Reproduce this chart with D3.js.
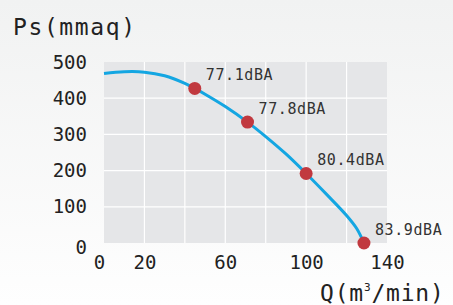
<!DOCTYPE html>
<html>
<head>
<meta charset="utf-8">
<script src="https://cdn.jsdelivr.net/npm/d3@7"></script>
<style>
  body { margin: 0; background: #fff; }
  svg { display: block; }
</style>
</head>
<body>
<div id="vis"></div>
<script>
// curve (Q in m3/min, Ps in mmaq)
const curveQ  = [0, 10, 20, 30, 40, 44.9, 50, 60, 71, 80, 90, 100, 110, 120, 125, 128.6];
const curvePs = [468, 473, 472, 462, 441, 427, 411, 377, 334, 294, 246, 192, 135, 76, 40, 0];

// measured points with noise level
const pointQ  = [44.9, 71, 100, 128.6];
const pointPs = [427, 334, 192, 0];
const pointLabels = ["77.1dBA", "77.8dBA", "80.4dBA", "83.9dBA"];

const xTicks = [0, 20, 60, 100, 140];
const yTicks = [0, 100, 200, 300, 400, 500];
const xGrid = [20, 40, 60, 80, 100, 120];
const yGrid = [100, 200, 300, 400];

function drawChart(){
  const size = {width: 453, height: 305};
  const margin = {left: 104, right: 66, top: 62, bottom: 62};
  const {width, height} = size;
  const font = "'DejaVu Sans Mono', 'Liberation Mono', monospace";

  const svg = d3.select("#vis")
    .append("svg")
    .attr("width", width)
    .attr("height", height);

  const grad = svg.append("defs").append("linearGradient")
    .attr("id", "bg").attr("x1", 0).attr("y1", 0).attr("x2", 0).attr("y2", 1);
  grad.append("stop").attr("offset", "0%").attr("stop-color", "#f1f2f2");
  grad.append("stop").attr("offset", "100%").attr("stop-color", "#fefefe");
  svg.append("rect").attr("width", width).attr("height", height).attr("fill", "url(#bg)");

  const x = d3.scaleLinear()
    .domain([0, 140])
    .range([margin.left, width - margin.right]);
  const y = d3.scaleLinear()
    .domain([0, 500])
    .range([height - margin.bottom, margin.top]);

  // plot background + grid
  svg.append("rect")
    .attr("x", x(0)).attr("y", y(500))
    .attr("width", x(140) - x(0)).attr("height", y(0) - y(500))
    .attr("fill", "#e5e6e8");

  svg.selectAll(".vgrid")
    .data(xGrid)
    .join("line")
    .attr("class", "vgrid")
    .attr("x1", d => x(d)).attr("x2", d => x(d))
    .attr("y1", y(0)).attr("y2", y(500))
    .attr("stroke", "#fff").attr("stroke-width", 1.2);
  svg.selectAll(".hgrid")
    .data(yGrid)
    .join("line")
    .attr("class", "hgrid")
    .attr("y1", d => y(d)).attr("y2", d => y(d))
    .attr("x1", x(0)).attr("x2", x(140))
    .attr("stroke", "#fff").attr("stroke-width", 1.2);

  // axes (labels only)
  const yAxis = svg.append("g")
    .attr("transform", `translate(${x(0)},0)`)
    .call(d3.axisLeft(y).tickValues(yTicks).tickSize(0).tickPadding(17));
  const xAxis = svg.append("g")
    .attr("transform", `translate(0,${y(0)})`)
    .call(d3.axisBottom(x).tickValues(xTicks).tickSize(0).tickPadding(13));
  [xAxis, yAxis].forEach(a => {
    a.select(".domain").remove();
    a.selectAll("text")
      .style("font-family", font)
      .style("font-size", "19px")
      .style("fill", "#222");
  });
  // the zero labels sit a bit off the corner
  yAxis.selectAll(".tick").filter(d => d === 0).select("text").attr("y", 4);
  xAxis.selectAll(".tick").filter(d => d === 0).select("text").attr("x", -5);

  // curve
  const curveData = curveQ.map((q, i) => [q, curvePs[i]]);
  svg.append("path")
    .datum(curveData)
    .attr("fill", "none")
    .attr("stroke", "#14a6e2")
    .attr("stroke-width", 3)
    .attr("d", d3.line().x(d => x(d[0])).y(d => y(d[1])).curve(d3.curveCatmullRom.alpha(0.5)));

  const pts = pointQ.map((q, i) => ({q: q, ps: pointPs[i], label: pointLabels[i]}));
  svg.selectAll(".pt")
    .data(pts)
    .join("circle")
    .attr("class", "pt")
    .attr("cx", d => x(d.q)).attr("cy", d => y(d.ps))
    .attr("r", 6.5)
    .attr("fill", "#c1393f");

  svg.selectAll(".lbl")
    .data(pts)
    .join("text")
    .attr("class", "lbl")
    .attr("x", d => x(d.q) + 11)
    .attr("y", d => y(d.ps) - 8)
    .style("font-family", font)
    .style("font-size", "15px")
    .style("letter-spacing", "0.6px")
    .style("fill", "#333")
    .text(d => d.label);

  // axis titles
  svg.append("text")
    .attr("x", 13).attr("y", 35)
    .style("font-family", font)
    .style("font-size", "23px")
    .style("letter-spacing", "1.6px")
    .style("fill", "#222")
    .text("Ps(mmaq)");

  const qt = svg.append("text")
    .attr("x", 320).attr("y", 301)
    .style("font-family", font)
    .style("font-size", "23px")
    .style("letter-spacing", "0.8px")
    .style("fill", "#222");
  qt.append("tspan").text("Q(m");
  qt.append("tspan").attr("dy", -10).style("font-size", "11px").text("3");
  qt.append("tspan").attr("dy", 10).text("/min)");
}

drawChart();
</script>
</body>
</html>
